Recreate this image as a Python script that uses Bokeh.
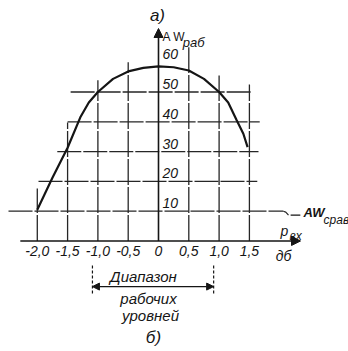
from bokeh.plotting import figure
from bokeh.models import Range1d, ColumnDataSource, Arrow, NormalHead
from bokeh.core.properties import value
from bokeh.embed import file_html
from bokeh.resources import INLINE

# ---- data ----
curve_x = [-2.0, -1.75, -1.5, -1.29, -1.15, -1.0, -0.75, -0.5, -0.25, 0.0,
           0.25, 0.5, 0.75, 1.0, 1.15, 1.29, 1.40, 1.47]
curve_y = [10.5, 21.2, 31.3, 41.5, 46.5, 50.0, 54.4, 56.9, 58.1, 58.6,
           58.3, 57.2, 54.4, 50.0, 46.5, 40.5, 36.0, 31.5]
x_ticks = [-2.0, -1.5, -1.0, -0.5, 0.0, 0.5, 1.0, 1.5]
x_tick_labels = ["-2,0", "-1,5", "-1,0", "-0,5", "0", "0,5", "1,0", "1,5"]
y_ticks = [10, 20, 30, 40, 50, 60]
y_tick_labels = ["10", "20", "30", "40", "50", "60"]
aw_srav = 10
work_range = [-1.09, 0.91]

# ---- layout (drawn extents of the hand-drawn grid) ----
h_levels = [10, 20, 30, 40, 50]
h_left = [-2.475, -1.98, -1.67, -1.50, -1.45]
h_right = [2.06, 1.63, 1.65, 1.67, 1.52]
v_pos = [-2.0, -1.5, -1.0, -0.5, 0.5, 1.0, 1.5]
v_top = [17.6, 39.8, 53.9, 60.0, 65.0, 55.5, 52.5]

FONT = value("Liberation Sans Narrow, Liberation Sans, DejaVu Sans")
INK = "#151515"
GRID = "#262626"

p = figure(width=348, height=351, output_backend="svg", toolbar_location=None,
           x_range=Range1d(-2.607, 3.135), y_range=Range1d(-37.08, 80.7),
           x_axis_type=None, y_axis_type=None, min_border=0,
           outline_line_color=None, background_fill_color="white",
           border_fill_color="white")

# grid lines (hand-drawn, slightly broken)
p.segment(x0=h_left, y0=h_levels, x1=h_right, y1=h_levels,
          line_color=GRID, line_width=1.3, line_dash="24 2")
p.segment(x0=v_pos, y0=[0] * len(v_pos), x1=v_pos, y1=v_top,
          line_color=GRID, line_width=1.3, line_dash="26 2")

# leader of AW_срав
p.line(x=[2.06, 2.10, 2.145], y=[aw_srav, aw_srav - 0.3, aw_srav - 1.3],
       line_color=GRID, line_width=1.2)
p.segment(x0=[2.18], y0=[aw_srav - 1.3], x1=[2.34], y1=[aw_srav - 1.3],
          line_color=INK, line_width=1.3)

# axes with arrows
p.add_layout(Arrow(end=NormalHead(size=9, fill_color=INK, line_color=INK),
                   x_start=0, y_start=0, x_end=0, y_end=71.3,
                   line_color=INK, line_width=1.6))
p.add_layout(Arrow(end=NormalHead(size=9, fill_color=INK, line_color=INK),
                   x_start=-2.28, y_start=0, x_end=2.343, y_end=0,
                   line_color=INK, line_width=1.6))

# curve
p.line(x=curve_x, y=curve_y, line_color=INK, line_width=2.2)

# tick labels
p.text(x=x_ticks, y=[0] * len(x_ticks), text=x_tick_labels, y_offset=10,
       text_align="center", text_baseline="middle", text_font=FONT,
       text_font_style="italic", text_font_size="14px", text_color=INK)
p.text(x=[0] * len(y_ticks), y=y_ticks, text=y_tick_labels, x_offset=4,
       y_offset=-8, text_align="left", text_baseline="middle", text_font=FONT,
       text_font_style="italic", text_font_size="14px", text_color=INK)

# axis titles
p.text(x=[0.066], y=[68.6], text=["A W"], text_align="left",
       text_baseline="middle", text_font=FONT, text_font_size="12px",
       text_color=INK)
p.text(x=[0.40], y=[66.7], text=["раб"], text_align="left",
       text_baseline="middle", text_font=FONT, text_font_style="italic",
       text_font_size="13px", text_color=INK)
p.text(x=[2.013], y=[3.2], text=["p"], text_align="left",
       text_baseline="middle", text_font=FONT, text_font_style="italic",
       text_font_size="14px", text_color=INK)
p.text(x=[2.16], y=[1.6], text=["вх"], text_align="left",
       text_baseline="middle", text_font=FONT, text_font_style="italic",
       text_font_size="12px", text_color=INK)
p.text(x=[2.063], y=[-4.9], text=["дб"], text_align="center",
       text_baseline="middle", text_font=FONT, text_font_style="italic",
       text_font_size="14px", text_color=INK)
p.text(x=[2.393], y=[9.6], text=["AW"], text_align="left",
       text_baseline="middle", text_font=FONT, text_font_style="bold italic",
       text_font_size="13px", text_color=INK)
p.text(x=[2.723], y=[6.9], text=["срав"], text_align="left",
       text_baseline="middle", text_font=FONT, text_font_style="italic",
       text_font_size="12px", text_color=INK)

# range of working levels
p.segment(x0=work_range, y0=[-8.2, -8.2], x1=work_range, y1=[-18.3, -18.3],
          line_color=INK, line_width=1.2, line_dash="3 2")
p.add_layout(Arrow(start=NormalHead(size=7, fill_color=INK, line_color=INK),
                   end=NormalHead(size=7, fill_color=INK, line_color=INK),
                   x_start=work_range[0], y_start=-15.3,
                   x_end=work_range[1], y_end=-15.3,
                   line_color=INK, line_width=1.3))
p.text(x=[-0.248, -0.165, -0.132], y=[-11.9, -19.3, -25.0],
       text=["Диапазон", "рабочих", "уровней"], text_align="center",
       text_baseline="middle", text_font=FONT, text_font_style="italic",
       text_font_size="15px", text_color=INK)

# panel letters
p.text(x=[-0.017], y=[75.7], text=["а)"], text_align="center",
       text_baseline="middle", text_font=FONT, text_font_style="italic",
       text_font_size="17px", text_color=INK)
p.text(x=[-0.083], y=[-32.4], text=["б)"], text_align="center",
       text_baseline="middle", text_font=FONT, text_font_style="italic",
       text_font_size="17px", text_color=INK)

open("out.html", "w").write(file_html(p, INLINE))
